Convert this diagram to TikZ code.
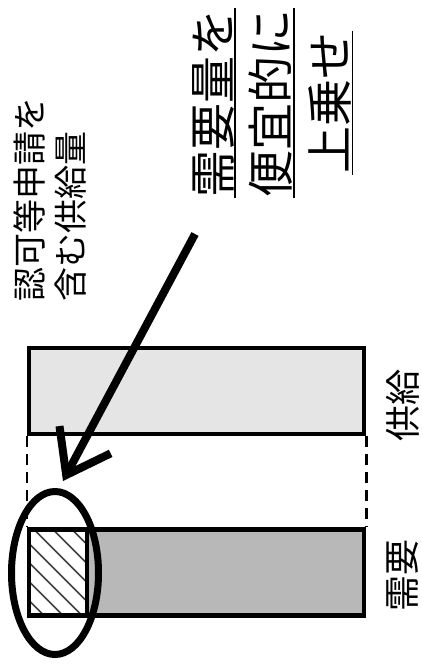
\documentclass[tikz,border=0pt]{standalone}
\usepackage{fontspec}
\newfontfamily\jpfont{Noto Sans CJK JP}
\usetikzlibrary{calc}
\usetikzlibrary{arrows.meta}
\usetikzlibrary{shapes.geometric}

\begin{document}
\begin{tikzpicture}[x=1pt, y=-1pt,
  bar/.style={draw, line width=4.5pt, inner sep=0, minimum width=335pt, minimum height=86pt},
  lbl/.style={rotate=90, inner sep=0, font=\jpfont\fontsize{36}{36}\selectfont},
  big/.style={rotate=90, inner sep=1pt, font=\jpfont\fontsize{47}{47}\selectfont}]
\useasboundingbox (0,0) rectangle (422,666);
% bars
\node[bar, fill=black!10] (supply) at (196.5,391) {};
\node[bar, fill=black!28] (demand) at (196.5,572.5) {};
\node[draw, line width=4.5pt, fill=white, inner sep=0, minimum width=58pt, minimum height=86pt,
  path picture={\foreach \k in {-7,...,7}
    \draw[line width=1.6pt, black!75] ($(path picture bounding box.center)+(\k*19pt,0)+(-60pt,60pt)$) --++(120pt,-120pt);}]
  (extra) at (58,572.5) {};
\draw[line width=2.5pt, dash pattern=on 11pt off 7pt] (supply.south west) -- (demand.north west);
\draw[line width=2.5pt, dash pattern=on 11pt off 7pt] (supply.south east) -- (demand.north east);
% ring and arrow
\node[ellipse, draw, line width=7pt, minimum width=87pt, minimum height=163pt, inner sep=0] (ring) at (55,573) {};
\coordinate (tail) at (195,234);
\coordinate (tip) at (63,481);
\draw[line width=8pt, -{Straight Barb[length=40pt, width=58pt]}] (tail) -- (tip);
% texts
\node[lbl, font=\jpfont\fontsize{34}{41}\selectfont, align=left] (permit) at (50,199) {認可等申請を\\含む供給量};
\node[big] (need) at (213,103) {需要量を};
\node[big] (conv) at (271,103) {便宜的に};
\node[big] (add) at (330,103) {上乗せ};
\foreach \n in {need,conv,add}
  \draw[line width=1.5pt] (\n.south west) -- (\n.south east);
\node[lbl] (supl) at (403,405) {供給};
\node[lbl] (dmnd) at (403,575) {需要};
\end{tikzpicture}
\end{document}
